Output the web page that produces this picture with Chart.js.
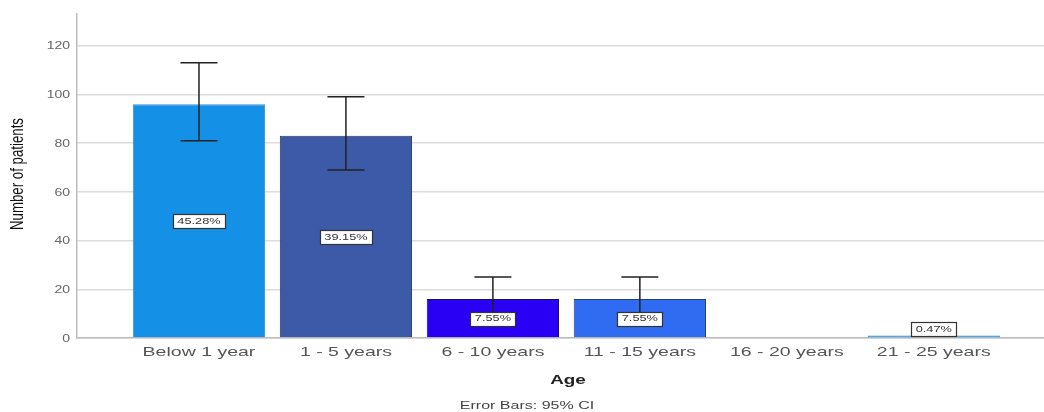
<!DOCTYPE html>
<html>
<head>
<meta charset="utf-8">
<script src="https://cdn.jsdelivr.net/npm/chart.js@4.4.1/dist/chart.umd.min.js"></script>
<style>
  html, body { margin: 0; padding: 0; background: #fff; }
  #wrap { width: 1044px; height: 412px; position: relative; }
</style>
</head>
<body>
<div id="wrap"><canvas id="c"></canvas></div>
<script>
// ---- data ----
const categories = ["Below 1 year", "1 - 5 years", "6 - 10 years", "11 - 15 years", "16 - 20 years", "21 - 25 years"];
const patients   = [96, 83, 16, 16, 0, 1];
const percentLabels = ["45.28%", "39.15%", "7.55%", "7.55%", null, "0.47%"];
const ciLow  = [81, 69, 8, 8, null, null];
const ciHigh = [113, 99, 25, 25, null, null];
const yTicks = [0, 20, 40, 60, 80, 100, 120];
const yTitle = "Number of patients";
const xTitle = "Age";
const footNote = "Error Bars: 95% CI";

const barColors  = ["#1490e6", "#3d5aa8", "#2a00f5", "#2f6cf2", "#1490e6", "#1490e6"];
const barBorders = ["#3a8fd0", "#26355e", "#1a1060", "#23407a", "#3a8fd0", "#1490e6"];

const points = patients.map((v, i) => ({ x: i, y: v }));
const FONT = '"Liberation Sans", Arial, sans-serif';

// text stretched horizontally (the reference image is widened)
function stretchText(ctx, text, x, y, font, color, align, sx) {
  ctx.save();
  ctx.font = font;
  ctx.fillStyle = color;
  ctx.textAlign = align;
  ctx.textBaseline = 'middle';
  ctx.translate(x, y);
  ctx.scale(sx, 1);
  ctx.fillText(text, 0, 0);
  ctx.restore();
}

const overlay = {
  id: 'overlay',
  afterDatasetsDraw(chart) {
    const ctx = chart.ctx, xs = chart.scales.x, ys = chart.scales.y;
    const ca = chart.chartArea;
    // error bars
    ctx.save();
    ctx.strokeStyle = '#222';
    ctx.lineWidth = 1.5;
    categories.forEach((c, i) => {
      if (ciLow[i] == null) return;
      const x = xs.getPixelForValue(i);
      const yl = ys.getPixelForValue(ciLow[i]);
      const yh = ys.getPixelForValue(ciHigh[i]);
      ctx.beginPath();
      ctx.moveTo(x, yl); ctx.lineTo(x, yh);
      ctx.moveTo(x - 18.5, yl); ctx.lineTo(x + 18.5, yl);
      ctx.moveTo(x - 18.5, yh); ctx.lineTo(x + 18.5, yh);
      ctx.stroke();
    });
    ctx.restore();
    // percentage labels
    categories.forEach((c, i) => {
      const t = percentLabels[i];
      if (!t) return;
      const x = xs.getPixelForValue(i);
      let y = ys.getPixelForValue(patients[i] / 2);
      ctx.save();
      ctx.font = '8.5px ' + FONT;
      const w = Math.round(ctx.measureText(t).width * 1.5 + 9), h = 14;
      ctx.restore();
      const bottomLimit = ys.getPixelForValue(0) - 2;
      if (y + h / 2 > bottomLimit) y = bottomLimit - h / 2;
      const bx = Math.round(x - w / 2) + 0.5, by = Math.round(y - h / 2) + 0.5;
      ctx.save();
      ctx.fillStyle = '#fff';
      ctx.fillRect(bx, by, w, h);
      ctx.strokeStyle = '#333';
      ctx.lineWidth = 1.2;
      ctx.strokeRect(bx, by, w, h);
      ctx.restore();
      stretchText(ctx, t, x, y + 0.5, '8.5px ' + FONT, '#333', 'center', 1.5);
    });
    // y tick labels
    yTicks.forEach(v => {
      stretchText(ctx, String(v), ca.left - 7, ys.getPixelForValue(v) + 1, '10px ' + FONT, '#666', 'right', 1.4);
    });
    // x tick labels
    categories.forEach((c, i) => {
      stretchText(ctx, c, xs.getPixelForValue(i), ca.bottom + 14, '13px ' + FONT, '#555', 'center', 1.5);
    });
    // x title and footnote
    stretchText(ctx, xTitle, 568, 380, 'bold 13px ' + FONT, '#222', 'center', 1.45);
    stretchText(ctx, footNote, 527, 406, '10px ' + FONT, '#444', 'center', 1.6);
    // y axis title (tall, condensed)
    ctx.save();
    ctx.font = '18px ' + FONT;
    const tw = ctx.measureText(yTitle).width;
    const cy = (ca.top + ca.bottom) / 2 - 2;
    ctx.translate(18.5, cy);
    ctx.rotate(-Math.PI / 2);
    ctx.scale(112 / tw, 1);
    ctx.fillStyle = '#111';
    ctx.textAlign = 'center';
    ctx.textBaseline = 'middle';
    ctx.fillText(yTitle, 0, 0);
    ctx.restore();
  }
};

new Chart(document.getElementById('c'), {
  type: 'bar',
  data: {
    datasets: [{
      data: points,
      backgroundColor: barColors,
      borderColor: barBorders,
      borderWidth: 1,
      barPercentage: 0.9,
      categoryPercentage: 1.0
    }]
  },
  options: {
    responsive: true,
    maintainAspectRatio: false,
    animation: false,
    layout: { padding: { top: 14, right: 0, left: 0, bottom: 0 } },
    plugins: {
      legend: { display: false },
      tooltip: { enabled: false }
    },
    scales: {
      x: {
        type: 'linear',
        offset: false,
        min: -0.83,
        max: 5.75,
        afterBuildTicks(scale) { scale.ticks = categories.map((c, i) => ({ value: i })); },
        afterFit(scale) { scale.height = 74; },
        ticks: { display: false },
        grid: { display: false, drawTicks: false },
        border: { display: true, color: '#bbb', width: 1.5 },
        title: { display: false }
      },
      y: {
        min: 0,
        max: 133,
        afterBuildTicks(scale) { scale.ticks = yTicks.map(v => ({ value: v })); },
        afterFit(scale) { scale.width = 77; },
        ticks: { display: false },
        grid: { color: '#dcdcdc', lineWidth: 1.5, drawTicks: false },
        border: { display: true, color: '#bbb', width: 1.5 },
        title: { display: false }
      }
    }
  },
  plugins: [overlay]
});
</script>
</body>
</html>
